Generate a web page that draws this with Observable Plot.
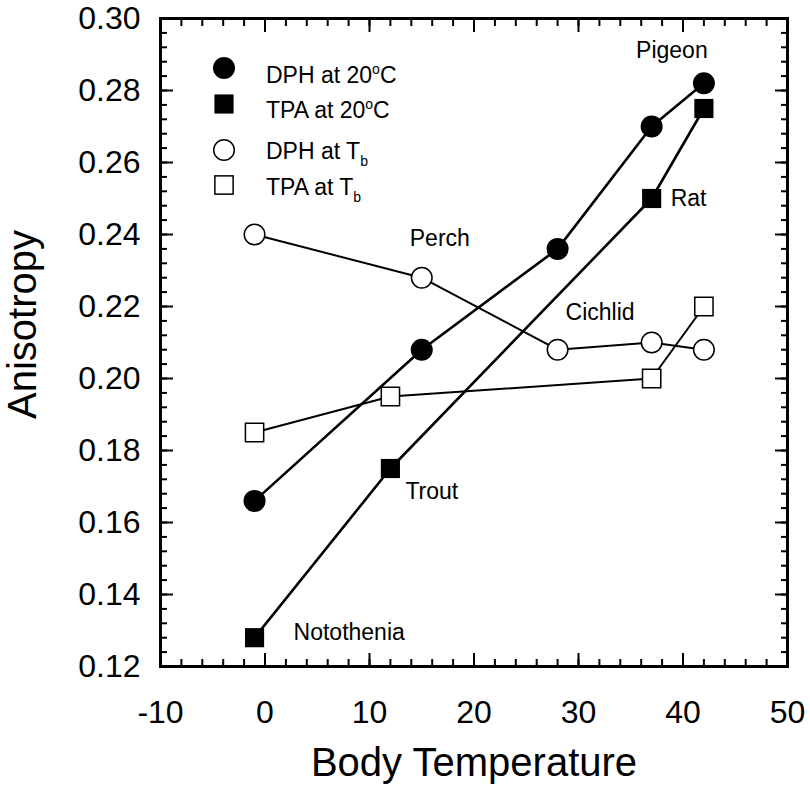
<!DOCTYPE html>
<html><head><meta charset="utf-8">
<script src="https://cdn.jsdelivr.net/npm/d3@7"></script>
<script src="https://cdn.jsdelivr.net/npm/@observablehq/plot@0.6"></script>
<style>
html,body{margin:0;padding:0;background:#fff;}
#chart{position:relative;width:810px;height:792px;font-family:"Liberation Sans",Arial,sans-serif;}
#legend{position:absolute;left:0;top:0;pointer-events:none;}
</style></head><body><div id="chart"></div>
<script>
// ---- data ----
const seriesNames = ["DPH at 20°C", "TPA at 20°C", "DPH at Tb", "TPA at Tb"];
const dph20Temp = [-1, 15, 28, 37, 42];
const dph20Aniso = [0.166, 0.208, 0.236, 0.270, 0.282];
const tpa20Temp = [-1, 12, 37, 42];
const tpa20Aniso = [0.128, 0.175, 0.250, 0.275];
const dphTbTemp = [-1, 15, 28, 37, 42];
const dphTbAniso = [0.240, 0.228, 0.208, 0.210, 0.208];
const tpaTbTemp = [-1, 12, 37, 42];
const tpaTbAniso = [0.185, 0.195, 0.200, 0.220];
const species = ["Notothenia", "Trout", "Perch", "Cichlid", "Rat", "Pigeon"];
const speciesTemp = [-1, 12, 15, 28, 37, 42];
const speciesSeries = ["TPA at 20°C", "TPA at 20°C", "DPH at Tb", "DPH at Tb", "TPA at 20°C", "DPH at 20°C"];
const xTickLabels = [-10, 0, 10, 20, 30, 40, 50];
const yTickLabels = [0.12, 0.14, 0.16, 0.18, 0.20, 0.22, 0.24, 0.26, 0.28, 0.30];
const xLabel = "Body Temperature";
const yLabel = "Anisotropy";

// ---- build tables ----
const temps = [dph20Temp, tpa20Temp, dphTbTemp, tpaTbTemp];
const anis = [dph20Aniso, tpa20Aniso, dphTbAniso, tpaTbAniso];
const series = seriesNames.map((name, k) => temps[k].map((t, i) => ({series: name, temp: t, aniso: anis[k][i]})));
const labelRows = species.map((name, i) => {
  const k = seriesNames.indexOf(speciesSeries[i]);
  const j = temps[k].indexOf(speciesTemp[i]);
  return {name, temp: temps[k][j], aniso: anis[k][j]};
});
// label styles (pixel offsets from the anchor point)
const labelStyle = {
  Notothenia: {dx: 39, dy: -5, anchor: "start"},
  Trout: {dx: 15, dy: 23, anchor: "start"},
  Perch: {dx: -12, dy: -39, anchor: "start"},
  Cichlid: {dx: 8, dy: -37, anchor: "start"},
  Rat: {dx: 19, dy: 0, anchor: "start"},
  Pigeon: {dx: -32, dy: -33, anchor: "middle"}
};

const xMinor = d3.range(-10, 50.001, 2);
const yMinor = d3.range(0, 46).map(i => 0.12 + i * 0.004);

const FONT = "Liberation Sans, Arial, sans-serif";
const MAJ = 13, MIN = 7, TW = 2;
const blank = () => "";

const styleOf = {
  "DPH at 20°C": {symbol: "circle", r: 11, fill: "black", stroke: "black", sw: 0, lw: 2.6},
  "TPA at 20°C": {symbol: "square", r: 10.8, fill: "black", stroke: "black", sw: 0, lw: 2.6},
  "DPH at Tb": {symbol: "circle", r: 10.3, fill: "white", stroke: "black", sw: 1.5, lw: 2},
  "TPA at Tb": {symbol: "square", r: 10.3, fill: "white", stroke: "black", sw: 1.5, lw: 2}
};

const marks = [];
// ticks (inward)
for (const [ticks, len] of [[xTickLabels, MAJ], [xMinor, MIN]]) {
  marks.push(Plot.axisX({anchor: "bottom", ticks, tickSize: len, dy: -len, tickFormat: blank, label: null, strokeWidth: TW}));
  marks.push(Plot.axisX({anchor: "top", ticks, tickSize: len, dy: len, tickFormat: blank, label: null, strokeWidth: TW}));
}
for (const [ticks, len] of [[yTickLabels, MAJ], [yMinor, MIN]]) {
  marks.push(Plot.axisY({anchor: "left", ticks, tickSize: len, dx: len, tickFormat: blank, label: null, strokeWidth: TW}));
  marks.push(Plot.axisY({anchor: "right", ticks, tickSize: len, dx: -len, tickFormat: blank, label: null, strokeWidth: TW}));
}
// tick labels
marks.push(Plot.axisX({anchor: "bottom", ticks: xTickLabels, tickSize: 0, tickPadding: 34, fontSize: 32, label: null,
  tickFormat: d => String(d), fill: "black"}));
marks.push(Plot.axisY({anchor: "left", ticks: yTickLabels, tickSize: 0, tickPadding: 20, fontSize: 32, label: null,
  tickFormat: d => d.toFixed(2), fill: "black"}));
// axis titles
marks.push(Plot.text([xLabel], {text: d => d, frameAnchor: "bottom", textAnchor: "middle", dy: 97, fontSize: 40, lineAnchor: "middle", fill: "black"}));
marks.push(Plot.text([yLabel], {text: d => d, frameAnchor: "left", textAnchor: "middle", rotate: -90, dx: -137, dy: -18, fontSize: 40, lineAnchor: "middle", fill: "black"}));
// lines
for (const rows of series) {
  const s = styleOf[rows[0].series];
  marks.push(Plot.line(rows, {x: "temp", y: "aniso", stroke: "black", strokeWidth: s.lw}));
}
// dots
for (const rows of series) {
  const s = styleOf[rows[0].series];
  marks.push(Plot.dot(rows, {x: "temp", y: "aniso", symbol: s.symbol, r: s.r, fill: s.fill, stroke: s.stroke, strokeWidth: s.sw}));
}
// species labels
for (const row of labelRows) {
  const st = labelStyle[row.name];
  marks.push(Plot.text([row], {x: "temp", y: "aniso", text: "name", dx: st.dx, dy: st.dy,
    textAnchor: st.anchor, lineAnchor: "middle", fontSize: 23, fill: "black"}));
}
marks.push(Plot.frame({stroke: "black", strokeWidth: 3}));

const chart = Plot.plot({
  width: 810, height: 792,
  marginLeft: 160, marginRight: 23, marginTop: 18, marginBottom: 126,
  x: {domain: [-10, 50]},
  y: {domain: [0.12, 0.30]},
  style: {fontFamily: FONT, background: "white", color: "black", overflow: "visible"},
  marks
});
document.getElementById("chart").appendChild(chart);

// ---- legend (inside plot area) ----
const leg = d3.select("#chart").append("svg").attr("id", "legend").attr("width", 810).attr("height", 792)
  .style("font-family", FONT);
const legendRows = [
  {name: seriesNames[0], cy: 68, base: 82.5, main: "DPH at 20", sup: "o", tail: "C"},
  {name: seriesNames[1], cy: 104, base: 118, main: "TPA at 20", sup: "o", tail: "C"},
  {name: seriesNames[2], cy: 150, base: 159, main: "DPH at T", sub: "b"},
  {name: seriesNames[3], cy: 185, base: 195, main: "TPA at T", sub: "b"}
];
for (const r of legendRows) {
  const s = styleOf[r.name];
  if (s.symbol === "circle") {
    leg.append("circle").attr("cx", 224).attr("cy", r.cy).attr("r", s.r)
      .attr("fill", s.fill).attr("stroke", s.stroke).attr("stroke-width", s.sw);
  } else {
    const side = s.r * Math.sqrt(Math.PI);
    leg.append("rect").attr("x", 224 - side / 2).attr("y", r.cy - side / 2).attr("width", side).attr("height", side)
      .attr("fill", s.fill).attr("stroke", s.stroke).attr("stroke-width", s.sw);
  }
  const t = leg.append("text").attr("x", 266).attr("y", r.base).attr("font-size", 23).attr("fill", "black");
  t.append("tspan").text(r.main);
  if (r.sup) {
    t.append("tspan").attr("font-size", 14).attr("dy", -9).text(r.sup);
    t.append("tspan").attr("dy", 9).text(r.tail);
  }
  if (r.sub) {
    t.append("tspan").attr("font-size", 14).attr("dy", 7).text(r.sub);
  }
}
</script></body></html>
